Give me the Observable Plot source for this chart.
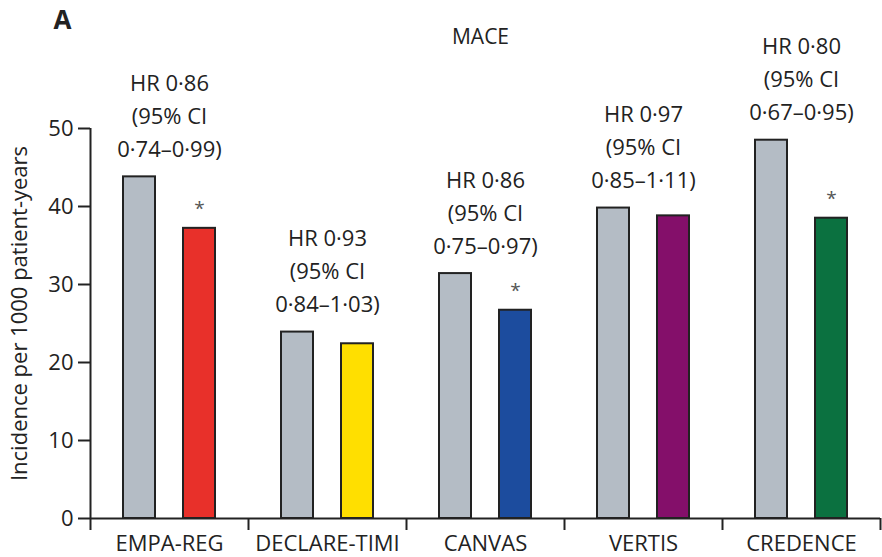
<!DOCTYPE html>
<html>
<head>
<meta charset="utf-8">
<script src="https://cdn.jsdelivr.net/npm/d3@7"></script>
<script src="https://cdn.jsdelivr.net/npm/@observablehq/plot@0.6"></script>
<style>
  html, body { margin: 0; padding: 0; background: #ffffff; }
  #chart svg { display: block; }
</style>
</head>
<body>
<div id="chart"></div>
<script>
// ---- Data ----
const trials = ["EMPA-REG", "DECLARE-TIMI", "CANVAS", "VERTIS", "CREDENCE"];
const placeboValues = [43.8, 23.9, 31.4, 39.8, 48.5];
const drugValues = [37.2, 22.4, 26.7, 38.8, 38.5];
const hrLabels = [
  "HR 0·86\n(95% CI\n0·74–0·99)",
  "HR 0·93\n(95% CI\n0·84–1·03)",
  "HR 0·86\n(95% CI\n0·75–0·97)",
  "HR 0·97\n(95% CI\n0·85–1·11)",
  "HR 0·80\n(95% CI\n0·67–0·95)"
];
const significant = [true, false, true, false, true];
const drugColors = ["#e8302a", "#ffdf00", "#1c4c9e", "#840f6a", "#0b7140"];
const placeboColor = "#b4bcc5";
const yTicks = [0, 10, 20, 30, 40, 50];
const panelLetter = "A";
const panelTitle = "MACE";
const yLabel = "Incidence per 1000 patient-years";

// ---- Table built from the arrays ----
const rows = trials.map((t, i) => ({
  trial: t,
  i,
  placebo: placeboValues[i],
  drug: drugValues[i],
  top: Math.max(placeboValues[i], drugValues[i]),
  hr: hrLabels[i],
  sig: significant[i],
  color: drugColors[i]
}));

const ink = "#222222";
const font = "'Open Sans', 'Noto Sans', sans-serif";

const plot = Plot.plot({
  width: 882,
  height: 557,
  marginTop: 128,
  marginBottom: 39,
  marginLeft: 90,
  marginRight: 2,
  style: { fontFamily: font, fontSize: "22px", color: ink, background: "#ffffff" },
  x: { type: "linear", domain: [0, trials.length], axis: null },
  y: { domain: [0, 50], axis: null },
  color: { type: "identity" },
  marks: [
    // placebo bars
    Plot.rectY(rows, {
      x1: "i", x2: d => d.i + 1, y: "placebo",
      fill: placeboColor, stroke: ink, strokeWidth: 2,
      insetLeft: 33, insetRight: 93
    }),
    // drug bars
    Plot.rectY(rows, {
      x1: "i", x2: d => d.i + 1, y: "drug",
      fill: "color", stroke: ink, strokeWidth: 2,
      insetLeft: 93, insetRight: 33
    }),
    // axis lines
    Plot.ruleX([0], { stroke: ink, strokeWidth: 2 }),
    Plot.ruleY([0], { stroke: ink, strokeWidth: 2 }),
    // y axis ticks and labels
    Plot.axisY({
      ticks: yTicks, tickSize: 12, tickPadding: 5, tickFormat: d => String(d),
      stroke: ink, strokeWidth: 2, fill: ink, fontSize: 22, label: null
    }),
    // group boundary ticks
    Plot.axisX({
      ticks: d3.range(trials.length + 1), tickSize: 12, tickFormat: () => "",
      stroke: ink, strokeWidth: 2, label: null
    }),
    // trial names
    Plot.axisX({
      ticks: trials.map((t, i) => i + 0.5), tickSize: 0, tickPadding: 17,
      tickFormat: v => trials[Math.floor(v)], fill: ink, fontSize: 22, label: null
    }),
    // y axis title
    Plot.text([yLabel], {
      frameAnchor: "left", textAnchor: "middle", lineAnchor: "middle",
      rotate: -90, dx: -71, dy: -10, fontSize: 22, fill: ink
    }),
    // HR annotations
    Plot.text(rows, {
      x: d => d.i + 0.5, y: "top", text: "hr",
      lineAnchor: "bottom", lineHeight: 1.5, dy: -20, fontSize: 22, fill: ink
    }),
    // significance asterisks
    Plot.text(rows.filter(d => d.sig), {
      x: d => d.i + 0.5, y: "drug", text: () => "*",
      lineAnchor: "bottom", dx: 30, dy: -13, fontSize: 19, fill: "#555555"
    }),
    // panel letter and title
    Plot.text([panelLetter], {
      frameAnchor: "top-left", textAnchor: "start", lineAnchor: "bottom",
      dx: -37, dy: -100, fontSize: 26, fontWeight: "bold", fill: ink
    }),
    Plot.text([panelTitle], {
      frameAnchor: "top", lineAnchor: "bottom",
      dx: -5, dy: -85, fontSize: 21, fill: ink
    })
  ]
});

document.getElementById("chart").appendChild(plot);
</script>
</body>
</html>
